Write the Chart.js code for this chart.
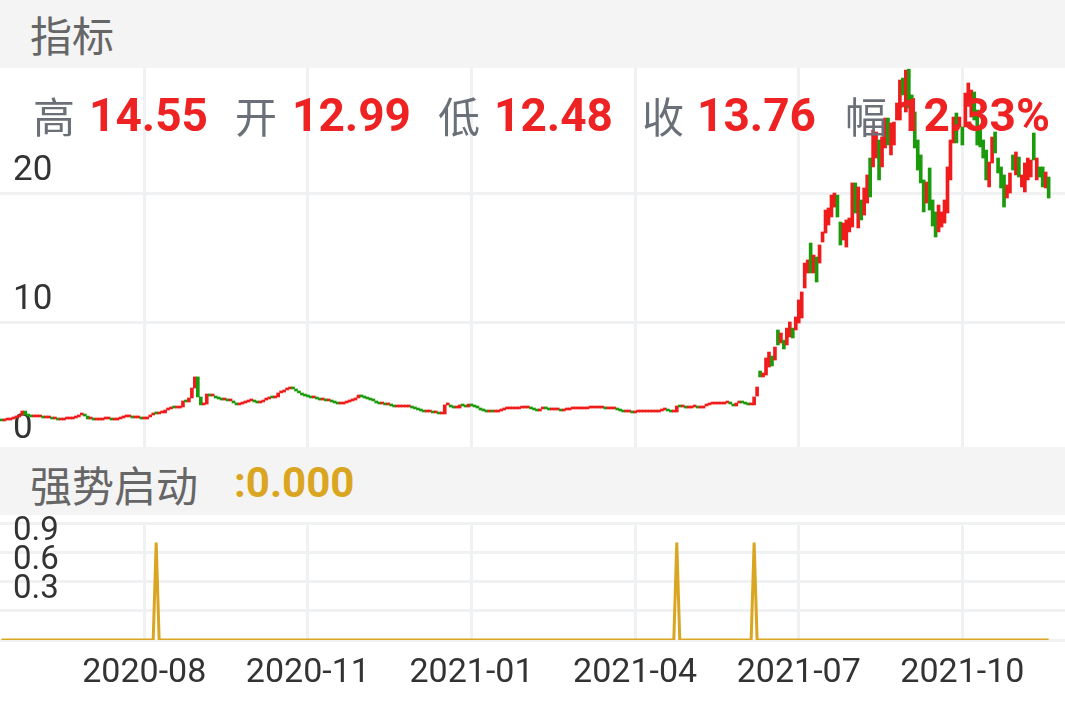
<!DOCTYPE html>
<html>
<head>
<meta charset="utf-8">
<script src="https://cdn.jsdelivr.net/npm/chart.js@4.4.0/dist/chart.umd.min.js"></script>
<style>
  body { margin: 0; width: 1065px; height: 708px; overflow: hidden; background: #fff; position: relative; }
  .band { position: absolute; left: 0; width: 1065px; height: 68px; background: #f4f4f5; z-index: 3; }
  .cjk { font-family: "Noto Sans CJK SC", sans-serif; }
  .num { font-family: Roboto, sans-serif; font-weight: bold; }
  .abs { position: absolute; white-space: nowrap; }
  canvas { position: absolute; left: 0; }
</style>
</head>
<body>
<div class="band" style="top:0">
  <span class="abs cjk" style="left:30px;top:13px;font-size:42px;line-height:42px;color:#666">指标</span>
</div>

<canvas id="kline" width="1065" height="383" style="top:68px"></canvas>

<!-- quote row drawn over the candles -->
<div class="abs" style="left:0;top:0;z-index:2">
  <span class="abs cjk" style="left:33px;top:94px;font-size:42px;line-height:42px;color:#6b7078">高</span>
  <span class="abs num" style="left:89px;top:92px;font-size:46px;line-height:46px;color:#ee2222">14.55</span>
  <span class="abs cjk" style="left:235px;top:94px;font-size:42px;line-height:42px;color:#6b7078">开</span>
  <span class="abs num" style="left:292px;top:92px;font-size:46px;line-height:46px;color:#ee2222">12.99</span>
  <span class="abs cjk" style="left:438px;top:94px;font-size:42px;line-height:42px;color:#6b7078">低</span>
  <span class="abs num" style="left:494px;top:92px;font-size:46px;line-height:46px;color:#ee2222">12.48</span>
  <span class="abs cjk" style="left:642px;top:94px;font-size:42px;line-height:42px;color:#6b7078">收</span>
  <span class="abs num" style="left:697px;top:92px;font-size:46px;line-height:46px;color:#ee2222">13.76</span>
  <span class="abs cjk" style="left:845px;top:94px;font-size:42px;line-height:42px;color:#6b7078">幅</span>
  <span class="abs num" style="left:897px;top:92px;font-size:46px;line-height:46px;color:#ee2222">12.33%</span>
</div>

<div class="band" style="top:447px">
  <span class="abs cjk" style="left:30px;top:16px;font-size:42px;line-height:42px;color:#666">强势启动</span>
  <span class="abs num" style="left:234px;top:15px;font-size:42px;line-height:42px;color:#daa520">:0.000</span>
</div>

<canvas id="signal" width="1065" height="193" style="top:515px"></canvas>

<script>
// daily candles, one per trading day (index 0 .. 352)
const opens = [
  2.40,2.33,2.40,2.40,2.48,2.56,2.64,2.79,3.10,2.79, 2.71,2.64,2.64,2.64,2.64,2.56,2.56,2.56,2.48,2.48,
  2.40,2.40,2.48,2.48,2.48,2.56,2.64,2.79,2.79,2.71, 2.48,2.48,2.40,2.40,2.40,2.48,2.48,2.48,2.40,2.40,
  2.48,2.56,2.64,2.64,2.64,2.56,2.56,2.56,2.48,2.48, 2.64,2.79,2.95,2.87,2.95,2.95,3.18,3.26,3.41,3.33,
  3.33,3.41,3.88,3.80,4.11,4.88,5.74,4.19,3.57,3.64, 4.42,4.26,4.26,4.11,4.03,3.95,3.95,3.88,3.88,3.72,
  3.57,3.64,3.72,3.80,3.88,3.88,3.80,3.72,3.80,3.95, 4.03,4.19,4.11,4.19,4.50,4.57,4.73,4.81,4.96,4.81,
  4.65,4.50,4.34,4.26,4.19,4.11,4.11,4.03,3.95,3.95, 3.88,3.88,3.80,3.72,3.64,3.64,3.72,3.80,3.88,3.95,
  4.11,4.34,4.19,4.11,4.03,3.95,3.88,3.72,3.64,3.64, 3.57,3.57,3.49,3.41,3.41,3.41,3.41,3.41,3.41,3.33,
  3.26,3.18,3.10,3.02,3.02,3.02,2.95,2.95,2.87,2.87, 3.57,3.57,3.41,3.33,3.33,3.57,3.49,3.41,3.64,3.49,
  3.41,3.33,3.18,3.10,3.02,3.10,3.02,3.02,3.10,3.18, 3.26,3.26,3.26,3.26,3.26,3.33,3.33,3.33,3.33,3.26,
  3.18,3.10,3.26,3.33,3.26,3.18,3.18,3.18,3.18,3.10, 3.18,3.18,3.26,3.26,3.26,3.26,3.26,3.26,3.33,3.33,
  3.33,3.33,3.33,3.33,3.26,3.26,3.26,3.26,3.18,3.10, 3.02,3.02,3.02,2.95,3.02,3.02,3.02,3.02,3.02,3.02,
  3.02,3.02,3.10,3.18,3.18,3.10,3.02,3.02,3.49,3.41, 3.41,3.33,3.33,3.41,3.41,3.33,3.33,3.49,3.57,3.64,
  3.64,3.64,3.64,3.64,3.72,3.80,3.64,3.49,3.72,3.80, 3.72,3.64,3.57,
  3.57,4.26,6.20,5.74,5.89,6.51,7.36,7.05,9.38,8.37,
  8.60,8.22,8.84,9.53,9.38,9.92,10.31,12.64,13.80,16.12,
  13.80,15.04,14.57,16.20,16.90,17.52,18.14,18.91,19.84,17.75,
  16.36,15.81,16.98,17.36,20.78,17.29,19.46,18.29,19.22,22.71,
  22.02,22.71,24.11,22.02,23.49,25.81,22.95,23.72,25.66,25.66,
  28.91,26.28,29.60,27.60,26.28,24.11,22.95,21.01,19.22,21.94,
  19.46,18.53,16.98,17.36,17.67,18.45,21.01,23.88,26.20,25.12,
  25.12,25.12,26.98,25.89,27.83,26.43,25.12,24.11,23.33,20.47,
  22.33,24.73,22.71,22.02,21.40,19.61,20.00,22.95,21.40,22.79,
  20.47,20.08,21.01,21.24,24.65,21.01,22.02,22.02,20.39,21.24
];
const closes = [
  2.33,2.40,2.40,2.48,2.56,2.64,2.79,3.10,2.79,2.71, 2.64,2.64,2.64,2.64,2.56,2.56,2.56,2.48,2.48,2.40,
  2.40,2.48,2.48,2.48,2.56,2.64,2.79,2.79,2.71,2.48, 2.48,2.40,2.40,2.40,2.48,2.48,2.48,2.40,2.40,2.48,
  2.56,2.64,2.64,2.64,2.56,2.56,2.56,2.48,2.48,2.64, 2.79,2.95,2.87,2.95,2.95,3.18,3.26,3.41,3.33,3.33,
  3.41,3.88,3.80,4.11,4.88,5.74,4.19,3.57,3.64,4.42, 4.26,4.26,4.11,4.03,3.95,3.95,3.88,3.88,3.72,3.57,
  3.64,3.72,3.80,3.88,3.88,3.80,3.72,3.80,3.95,4.03, 4.19,4.11,4.19,4.50,4.57,4.73,4.81,4.96,4.81,4.65,
  4.50,4.34,4.26,4.19,4.11,4.11,4.03,3.95,3.95,3.88, 3.88,3.80,3.72,3.64,3.64,3.72,3.80,3.88,3.95,4.11,
  4.34,4.19,4.11,4.03,3.95,3.88,3.72,3.64,3.64,3.57, 3.57,3.49,3.41,3.41,3.41,3.41,3.41,3.41,3.33,3.26,
  3.18,3.10,3.02,3.02,3.02,2.95,2.95,2.87,2.87,3.57, 3.57,3.41,3.33,3.33,3.57,3.49,3.41,3.64,3.49,3.41,
  3.33,3.18,3.10,3.02,3.10,3.02,3.02,3.10,3.18,3.26, 3.26,3.26,3.26,3.26,3.33,3.33,3.33,3.33,3.26,3.18,
  3.10,3.26,3.33,3.26,3.18,3.18,3.18,3.18,3.10,3.18, 3.18,3.26,3.26,3.26,3.26,3.26,3.26,3.33,3.33,3.33,
  3.33,3.33,3.33,3.26,3.26,3.26,3.26,3.18,3.10,3.02, 3.02,3.02,2.95,3.02,3.02,3.02,3.02,3.02,3.02,3.02,
  3.02,3.10,3.18,3.18,3.10,3.02,3.02,3.49,3.41,3.41, 3.33,3.33,3.41,3.41,3.33,3.33,3.49,3.57,3.64,3.64,
  3.64,3.64,3.64,3.72,3.80,3.64,3.49,3.72,3.80,3.72, 3.64,3.57,3.57,
  4.19,4.96,5.74,6.05,7.21,7.67,6.59,8.06,8.22,9.15,
  7.91,9.53,10.00,8.76,10.39,11.71,12.33,14.57,14.81,13.80,
  15.19,13.10,15.97,16.98,18.68,18.84,19.84,20.00,18.14,15.97,
  17.67,17.91,18.06,20.78,18.45,20.47,17.91,20.39,21.40,19.69,
  24.88,24.73,21.01,24.34,25.81,23.72,25.43,25.50,26.98,28.76,
  27.60,29.53,26.59,26.43,23.49,21.78,20.78,18.53,20.85,18.68,
  17.44,16.59,19.07,18.53,19.46,22.02,24.11,25.89,23.88,25.89,
  23.72,27.75,28.53,27.98,25.66,23.72,23.57,22.71,21.01,22.40,
  24.34,23.10,21.55,20.39,18.91,20.62,21.55,21.78,23.18,21.24,
  21.40,22.33,22.71,22.56,22.56,22.71,21.24,20.47,21.63,19.61
];

// x axis labels sit on these trading-day indexes
const tickIdx = [48, 103, 158, 213, 268, 323];
const tickLabels = ['2020-08', '2020-11', '2021-01', '2021-04', '2021-07', '2021-10'];

// price axis and signal axis tick values
const priceTicks = [0, 10, 20];
const signalTicks = [0, 0.3, 0.6, 0.9, 1.2];
const signalLabels = ['', '0.3', '0.6', '0.9', ''];

// 强势启动 signal: value per trading-day index (0 everywhere else)
const sigX = [0, 51, 52, 53, 226, 227, 228, 252, 253, 254, 352];
const sigY = [0, 0, 1, 0, 0, 1, 0, 0, 1, 0, 0];

const UP = '#f01c1c';
const DOWN = '#1b9a0b';
const GRID = '#f0f1f3';

// keep the scales from reserving room for their edge labels
const noPad = s => { s.paddingTop = 0; s.paddingBottom = 0; s.paddingLeft = 0; s.paddingRight = 0; };

const xScale = (showLabels) => ({
  type: 'linear',
  min: -0.5,
  max: 357.5,
  offset: false,
  afterBuildTicks: s => { s.ticks = tickIdx.map(v => ({ value: v })); },
  afterFit: s => { s.height = showLabels ? 68 : 0; noPad(s); },
  grid: { color: GRID, lineWidth: 3, drawTicks: false, offset: false },
  border: { display: false },
  ticks: {
    display: showLabels,
    autoSkip: false,
    maxRotation: 0,
    padding: 13,
    color: '#333',
    font: { family: 'Roboto', size: 34 },
    callback: v => tickLabels[tickIdx.indexOf(v)] || ''
  }
});

new Chart(document.getElementById('kline'), {
  type: 'bar',
  data: {
    datasets: [{
      data: opens.map((o, i) => ({ x: i, y: [o, closes[i]] })),
      backgroundColor: ctx => (ctx.raw && ctx.raw.y[1] < ctx.raw.y[0]) ? DOWN : UP,
      barThickness: 3,
      minBarLength: 2,
      borderWidth: 0
    }]
  },
  options: {
    responsive: false,
    animation: false,
    layout: { autoPadding: false, padding: 0 },
    plugins: { legend: { display: false }, tooltip: { enabled: false } },
    scales: {
      x: xScale(false),
      y: {
        min: 0,
        max: 29.69,
        afterBuildTicks: s => { s.ticks = priceTicks.map(v => ({ value: v })); },
        afterFit: s => { s.width = 0; noPad(s); },
        grid: { color: GRID, lineWidth: 3, drawTicks: false },
        border: { display: false },
        ticks: {
          autoSkip: false,
          mirror: true,
          padding: 13,
          labelOffset: -22,
          color: '#333',
          font: { family: 'Roboto', size: 35 }
        }
      }
    }
  }
});

new Chart(document.getElementById('signal'), {
  type: 'line',
  data: {
    datasets: [{
      data: sigX.map((x, i) => ({ x: x, y: sigY[i] })),
      borderColor: '#daa520',
      borderWidth: 3,
      pointRadius: 0,
      tension: 0
    }]
  },
  options: {
    responsive: false,
    animation: false,
    layout: { autoPadding: false, padding: { top: 8, left: 0, right: 0, bottom: 0 } },
    plugins: { legend: { display: false }, tooltip: { enabled: false } },
    scales: {
      x: xScale(true),
      y: {
        min: 0,
        max: 1.2,
        afterBuildTicks: s => { s.ticks = signalTicks.map(v => ({ value: v })); },
        afterFit: s => { s.width = 0; noPad(s); },
        grid: { color: GRID, lineWidth: 3, drawTicks: false },
        border: { display: false },
        ticks: {
          autoSkip: false,
          mirror: true,
          padding: 13,
          labelOffset: -21,
          color: '#333',
          font: { family: 'Roboto', size: 33 },
          callback: v => signalLabels[signalTicks.findIndex(t => Math.abs(t - v) < 1e-6)] || ''
        }
      }
    }
  }
});
</script>
</body>
</html>
